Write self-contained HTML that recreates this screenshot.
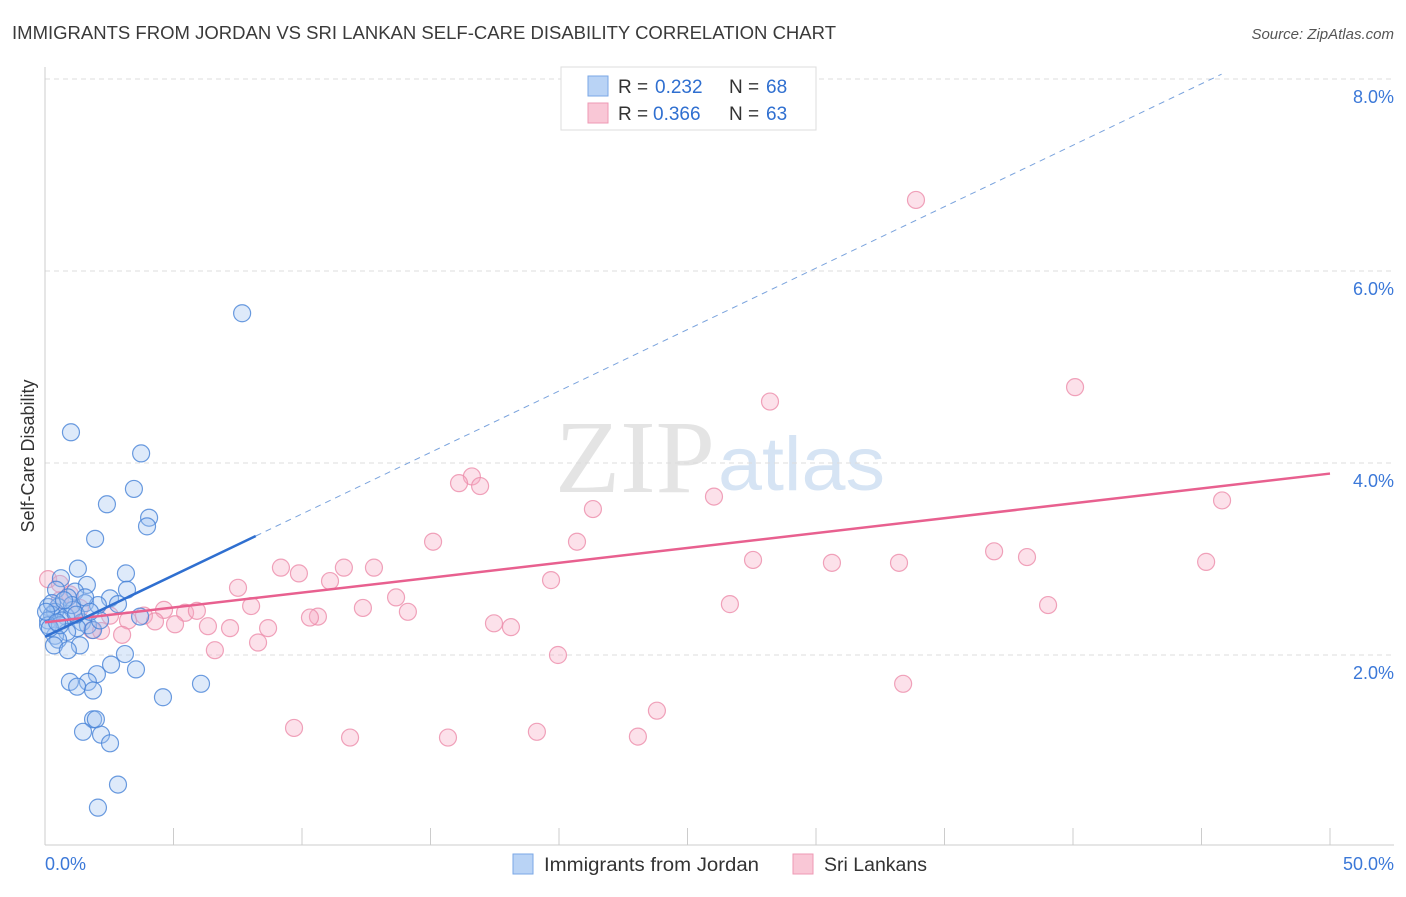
<!DOCTYPE html>
<html><head><meta charset="utf-8"><style>
body{margin:0;background:#fff;font-family:"Liberation Sans",sans-serif;}
</style></head><body>
<svg id="chart" width="1406" height="892" xmlns="http://www.w3.org/2000/svg">
<text x="12" y="39" font-size="18" fill="#3a3a3a" textLength="824" lengthAdjust="spacingAndGlyphs">IMMIGRANTS FROM JORDAN VS SRI LANKAN SELF-CARE DISABILITY CORRELATION CHART</text>
<text x="1394" y="39" font-size="15" fill="#555" font-style="italic" text-anchor="end">Source: ZipAtlas.com</text>
<text x="555" y="492" font-size="104" fill="#e4e4e4" textLength="160" lengthAdjust="spacingAndGlyphs" font-family="Liberation Serif,serif">ZIP</text>
<text x="718" y="490" font-size="76" fill="#d6e4f4" textLength="167" lengthAdjust="spacingAndGlyphs">atlas</text>
<text transform="translate(34,456) rotate(-90)" font-size="18" fill="#333" text-anchor="middle">Self-Care Disability</text>
<g id="grid"></g><g id="axes"></g><g id="marks"></g>
<g>
<rect x="561" y="67" width="255" height="63" fill="#fff" stroke="#ddd"/>
<rect x="588" y="76" width="20" height="20" fill="#b9d3f5" stroke="#7aa7e6"/>
<rect x="588" y="103" width="20" height="20" fill="#f9c7d6" stroke="#ee9ab4"/>
<g font-size="19" fill="#333">
<text x="618" y="93">R =</text><text x="655" y="93" fill="#2f6fd0">0.232</text><text x="729" y="93">N =</text><text x="766" y="93" fill="#2f6fd0">68</text></g>
<g font-size="19" fill="#333">
<text x="618" y="120">R =</text><text x="653" y="120" fill="#2f6fd0">0.366</text><text x="729" y="120">N =</text><text x="766" y="120" fill="#2f6fd0">63</text></g>
</g>
<g>
<rect x="513" y="854" width="20" height="20" fill="#b9d3f5" stroke="#7aa7e6"/>
<text x="544" y="871" font-size="19" fill="#333" textLength="215" lengthAdjust="spacingAndGlyphs">Immigrants from Jordan</text>
<rect x="793" y="854" width="20" height="20" fill="#f9c7d6" stroke="#ee9ab4"/>
<text x="824" y="871" font-size="19" fill="#333" textLength="103" lengthAdjust="spacingAndGlyphs">Sri Lankans</text>
</g>
<text x="45" y="870" font-size="18" fill="#3b78d8">0.0%</text>
<text x="1394" y="870" font-size="18" fill="#3b78d8" text-anchor="end">50.0%</text>
</svg>
<script>
const yTicks=[2,4,6,8];
const xTickCount=10;
const jordanX=[7.67,1.01,3.74,3.46,2.41,4.05,3.97,1.95,1.28,3.15,0.62,1.63,0.43,3.19,1.17,0.89,2.53,1.56,2.06,0.12,0.51,2.84,1.09,0.39,0.27,0.82,3.70,0.66,0.12,1.44,1.67,1.25,1.87,0.86,0.39,0.51,1.36,0.35,0.89,3.11,2.57,3.54,2.02,0.97,1.67,6.07,1.25,1.87,4.59,1.87,1.98,1.48,2.18,2.53,2.84,2.06,0.12,0.27,0.58,1.05,1.56,2.14,0.04,0.19,0.74,1.21,1.75,0.47];
const jordanY=[5.56,4.32,4.10,3.73,3.57,3.43,3.34,3.21,2.90,2.85,2.80,2.73,2.68,2.68,2.66,2.60,2.59,2.54,2.52,2.50,2.50,2.53,2.47,2.45,2.42,2.40,2.40,2.36,2.36,2.34,2.31,2.28,2.26,2.24,2.20,2.16,2.10,2.10,2.05,2.01,1.90,1.85,1.80,1.72,1.72,1.70,1.67,1.63,1.56,1.33,1.33,1.20,1.17,1.08,0.65,0.41,2.31,2.54,2.31,2.52,2.60,2.36,2.45,2.28,2.57,2.42,2.45,2.34];
const sriX=[33.89,40.08,28.21,16.61,16.11,16.93,26.03,21.32,45.80,15.10,20.70,36.93,38.21,27.55,30.62,33.23,45.18,9.18,11.63,12.80,9.88,11.09,19.69,7.51,13.66,0.12,0.58,8.02,26.65,39.03,12.37,14.12,4.63,5.45,5.91,10.62,10.31,2.53,3.23,3.85,4.28,5.06,6.34,7.20,17.47,18.13,8.68,1.83,2.18,3.00,6.61,8.29,19.96,33.39,23.81,9.69,11.87,15.68,19.14,23.07,0.58,0.97,1.36];
const sriY=[6.74,4.79,4.64,3.86,3.79,3.76,3.65,3.52,3.61,3.18,3.18,3.08,3.02,2.99,2.96,2.96,2.97,2.91,2.91,2.91,2.85,2.77,2.78,2.70,2.60,2.79,2.74,2.51,2.53,2.52,2.49,2.45,2.47,2.44,2.46,2.40,2.39,2.41,2.36,2.41,2.35,2.32,2.30,2.28,2.33,2.29,2.28,2.26,2.25,2.21,2.05,2.13,2.00,1.70,1.42,1.24,1.14,1.14,1.20,1.15,2.57,2.63,2.49];
const jordanTrend=[2.19,0.128];
const sriTrend=[2.34,0.031];
const NS="http://www.w3.org/2000/svg";
const sx=v=>45+v*25.7, sy=v=>847-v*96;
function mk(tag,attrs,parent){const e=document.createElementNS(NS,tag);for(const k in attrs)e.setAttribute(k,attrs[k]);document.getElementById(parent).appendChild(e);return e;}
yTicks.forEach(t=>{
 const l=mk('line',{x1:45,x2:1394,y1:sy(t),y2:sy(t),stroke:'#ddd','stroke-dasharray':'5,4'},'grid');
 
 
 const tx=mk('text',{x:1394,y:sy(t)+24,'font-size':18,fill:'#3b78d8','text-anchor':'end'},'grid');
 tx.textContent=t.toFixed(1)+'%';
 
 
});
let ax=mk('line',{x1:45,x2:45,y1:67,y2:845,stroke:'#ccc'},'axes');


ax=mk('line',{x1:45,x2:1394,y1:845,y2:845,stroke:'#ccc'},'axes');


for(let i=0;i<=xTickCount;i++){const x=sx(i*5);
 const tk=mk('line',{x1:x,x2:x,y1:828,y2:845,stroke:'#ccc'},'axes');
 
 }
for(let i=0;i<sriX.length;i++){
 const c=mk('circle',{cx:sx(sriX[i]),cy:sy(sriY[i]),r:8.5,fill:'rgba(246,170,195,0.35)',stroke:'rgba(236,140,170,0.8)','stroke-width':1.2},'marks');
 
 }
for(let i=0;i<jordanX.length;i++){
 const c=mk('circle',{cx:sx(jordanX[i]),cy:sy(jordanY[i]),r:8.5,fill:'rgba(160,195,240,0.35)',stroke:'rgba(70,130,215,0.8)','stroke-width':1.2},'marks');
 
 }
let t=mk('line',{x1:sx(0),y1:sy(sriTrend[0]),x2:sx(50),y2:sy(sriTrend[0]+50*sriTrend[1]),stroke:'#e8608f','stroke-width':2.5},'marks');


t=mk('line',{x1:sx(0),y1:sy(jordanTrend[0]),x2:sx(8.2),y2:sy(jordanTrend[0]+8.2*jordanTrend[1]),stroke:'#2f6fd0','stroke-width':2.5},'marks');


const xe=(8.05-jordanTrend[0])/jordanTrend[1];
t=mk('line',{x1:sx(8.2),y1:sy(jordanTrend[0]+8.2*jordanTrend[1]),x2:sx(xe),y2:sy(8.05),stroke:'#7aa3dd','stroke-width':1,'stroke-dasharray':'6,5'},'marks');


</script>
</body></html>
